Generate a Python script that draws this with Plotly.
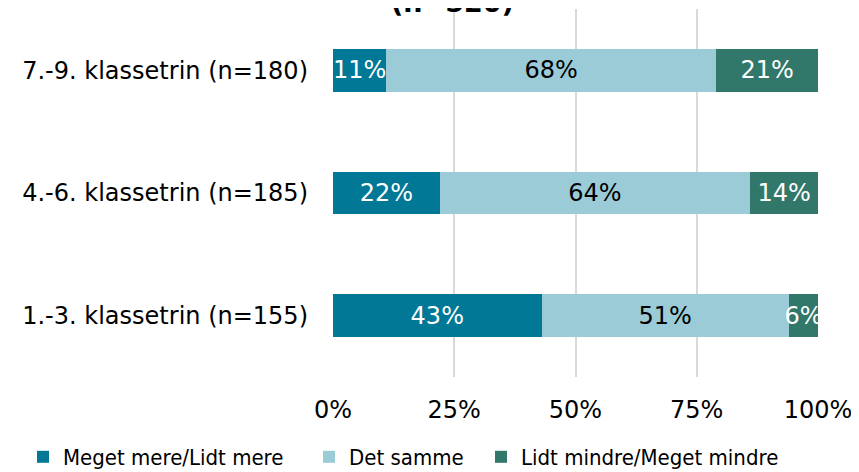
import plotly.graph_objects as go

categories = ["1.-3. klassetrin (n=155)", "4.-6. klassetrin (n=185)", "7.-9. klassetrin (n=180)"]
series = ["Meget mere/Lidt mere", "Det samme", "Lidt mindre/Meget mindre"]
meget_mere = [43, 22, 11]
det_samme = [51, 64, 68]
lidt_mindre = [6, 14, 21]
tick_vals = [0, 25, 50, 75, 100]
tick_text = ["0%", "25%", "50%", "75%", "100%"]

colors = ["#007896", "#9ACBD7", "#31776A"]
text_colors = ["white", "black", "white"]
legend_ids = ["legend", "legend2", "legend3"]
legend_x = [15, 301, 473]

fig = go.Figure()
for name, vals, c, tc, lg in zip(series, [meget_mere, det_samme, lidt_mindre], colors, text_colors, legend_ids):
    fig.add_trace(go.Bar(
        y=categories, x=vals, name=name, orientation="h",
        marker=dict(color=c, line=dict(width=0)),
        text=[f"{v}%" for v in vals], textposition="inside",
        insidetextanchor="middle", textangle=0, constraintext="none",
        textfont=dict(color=tc, size=24, family="DejaVu Sans"),
        width=0.35, hoverinfo="skip", legend=lg,
    ))

# title, mostly above the visible page
fig.add_annotation(text="<b>(n=520)</b>", xref="paper", yref="paper",
                   x=(444 - 325) / 485, xanchor="center", y=1, yshift=-11,
                   yanchor="bottom", showarrow=False,
                   font=dict(size=27, family="DejaVu Sans", color="black"))

# page has an 8px body margin, so the figure is 8px smaller than the window
fig.update_layout(
    barmode="stack",
    width=851, height=464,
    margin=dict(l=325, r=41, t=1, b=95, autoexpand=False),
    plot_bgcolor="white", paper_bgcolor="white",
    font=dict(family="DejaVu Sans", size=24, color="black"),
    xaxis=dict(range=[0, 100], tickvals=tick_vals, ticktext=tick_text,
               showgrid=True, gridcolor="#D9D9D9", gridwidth=2, zeroline=False,
               showline=False, ticks="", tickfont=dict(size=24), ticklabelstandoff=16),
    yaxis=dict(showgrid=False, showline=False, ticks="", ticklabelstandoff=24,
               tickfont=dict(size=24)),
    showlegend=True,
)
for lg, lx in zip(legend_ids, legend_x):
    fig.update_layout({lg: dict(
        orientation="h", x=lx / 851, xanchor="left", xref="container",
        y=15 / 464, yanchor="middle", yref="container",
        font=dict(size=22, family="DejaVu Sans Condensed"),
        itemwidth=30, bgcolor="rgba(0,0,0,0)")})

fig.write_html("out.html")
